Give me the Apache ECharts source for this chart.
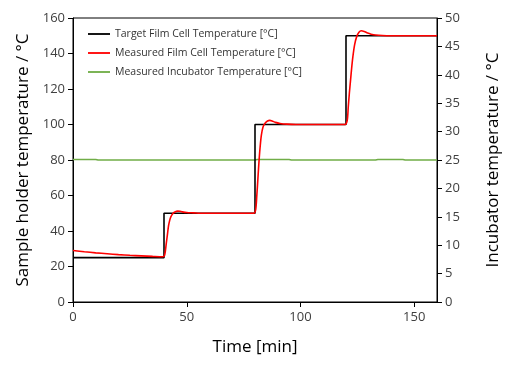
<!DOCTYPE html>
<html><head><meta charset="utf-8">
<script src="https://cdn.jsdelivr.net/npm/echarts@6/dist/echarts.min.js"></script>
<style>html,body{margin:0;padding:0;background:#fff}#c{width:518px;height:365px}</style>
</head><body><div id="c"></div>
<script>
const targetTime = [0, 40, 40, 80, 80, 120, 120, 160];
const targetTemp = [25, 25, 50, 50, 100, 100, 150, 150];

const filmTime = [0,5,10,15,20,25,30,35,39.5,40.3,41,41.5,42,42.5,43,44,45,46,47,48,50,53,56,60,65,70,75,79.5,
  80.3,80.8,81.3,81.8,82.3,82.8,83.5,84.5,85.5,86.5,87.5,89,91,94,98,105,112,119.5,
  120.5,121,121.5,122,122.5,123,123.8,124.7,125.7,126.7,128,129.5,131,133,136,140,150,160];
const filmTemp = [29.0,28.3,27.7,27.2,26.7,26.3,26.0,25.7,25.5,26.5,33,38,43,46,48,50,50.9,51.2,51.1,50.8,50.4,50.2,50.0,50,50,50,50,50,
  52,60,70,80,88,94,98.5,100.8,102,102.3,102,101.2,100.6,100.2,100.0,100,100,100,
  102,110,118,125,132,138,145,149.5,152,152.8,152.4,151.5,150.9,150.4,150.1,150,150,150];

const incTime = [0, 10, 11, 80, 81, 95, 96, 133, 134, 145, 146, 160];
const incTemp = [25.1, 25.1, 25.0, 25.0, 25.1, 25.1, 25.0, 25.0, 25.1, 25.1, 25.0, 25.0];

const xTicks = [0, 50, 100, 150];
const names = ['Target Film Cell Temperature [°C]', 'Measured Film Cell Temperature [°C]', 'Measured Incubator Temperature [°C]'];

const zip = (a, b) => a.map((v, i) => [v, b[i]]);
const FONT = 'Open Sans';
const chart = echarts.init(document.getElementById('c'));
const axisCommon = {
  axisLine: {show: true, lineStyle: {color: '#000', width: 1}},
  axisTick: {show: true, inside: false, length: 5, lineStyle: {color: '#000'}},
  splitLine: {show: false},
  axisLabel: {color: '#404040', fontFamily: FONT, fontSize: 13},
  nameTextStyle: {color: '#000', fontFamily: FONT, fontSize: 17},
  nameLocation: 'middle'
};
chart.setOption({
  animation: false,
  grid: {left: 73, right: 81, top: 18, bottom: 63, show: true, borderColor: '#000', borderWidth: 1, backgroundColor: 'transparent'},
  legend: {
    orient: 'vertical', left: 88, top: 27, padding: 0, itemWidth: 22, itemHeight: 14, itemGap: 5,
    icon: 'path://M0,0 L24,0 L24,2 L0,2 Z', symbolKeepAspect: true,
    textStyle: {color: '#333', fontFamily: FONT, fontSize: 10.5, lineHeight: 14},
    data: names
  },
  xAxis: Object.assign({}, axisCommon, {
    type: 'value', min: 0, max: 160, interval: 50,
    name: 'Time [min]', nameGap: 37,
    axisTick: Object.assign({}, axisCommon.axisTick, {customValues: xTicks}),
    axisLabel: Object.assign({}, axisCommon.axisLabel, {customValues: xTicks, margin: 9})
  }),
  yAxis: [
    Object.assign({}, axisCommon, {type: 'value', min: 0, max: 160, interval: 20, position: 'left',
      name: 'Sample holder temperature / °C', nameGap: 41}),
    Object.assign({}, axisCommon, {type: 'value', min: 0, max: 50, interval: 5, position: 'right',
      name: 'Incubator temperature / °C', nameGap: 48})
  ],
  series: [
    {name: names[0], type: 'line', data: zip(targetTime, targetTemp), symbol: 'none', yAxisIndex: 0,
      lineStyle: {color: '#000', width: 1.6}, itemStyle: {color: '#000'}, z: 3},
    {name: names[1], type: 'line', data: zip(filmTime, filmTemp), symbol: 'none', smooth: 0.3, yAxisIndex: 0,
      lineStyle: {color: '#ff0000', width: 1.6}, itemStyle: {color: '#ff0000'}, z: 4},
    {name: names[2], type: 'line', data: zip(incTime, incTemp), symbol: 'none', yAxisIndex: 1,
      lineStyle: {color: '#70ad47', width: 1.6}, itemStyle: {color: '#70ad47'}, z: 2}
  ]
});
</script></body></html>
